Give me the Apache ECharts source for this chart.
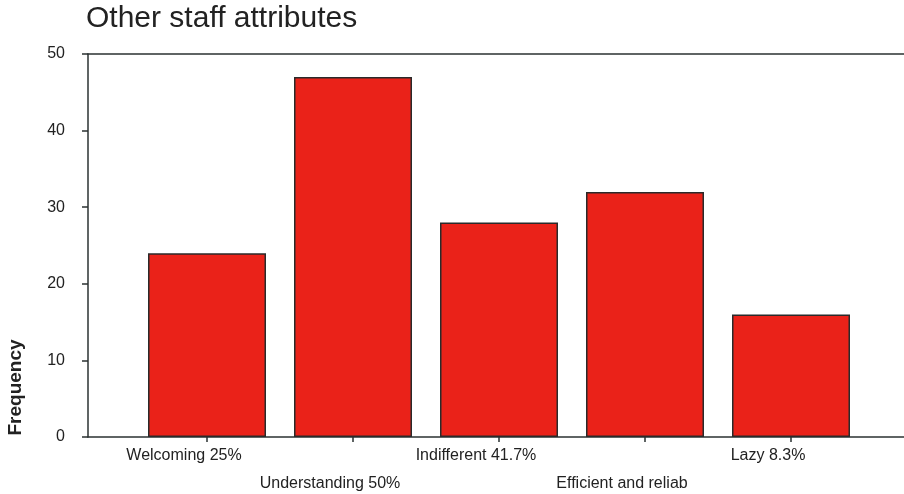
<!DOCTYPE html>
<html>
<head>
<meta charset="utf-8">
<script src="https://cdn.jsdelivr.net/npm/echarts@6/dist/echarts.min.js"></script>
<style>html,body{margin:0;padding:0;background:#fff}#c{width:904px;height:494px}</style>
</head>
<body>
<div id="c"></div>
<script>
const categories = ['Welcoming 25%', 'Understanding 50%', 'Indifferent 41.7%', 'Efficient and reliab', 'Lazy 8.3%'];
const frequency = [24, 47, 28, 32, 16];
const yTicks = [0, 10, 20, 30, 40, 50];

const chart = echarts.init(document.getElementById('c'));
const lineColor = '#2b3232';
const textColor = '#222';
const frameLine = { show: true, onZero: false, lineStyle: { color: lineColor, width: 1.5 } };
chart.setOption({
  animation: false,
  backgroundColor: '#fff',
  title: {
    text: 'Other staff attributes',
    left: 86, top: 4, padding: 0,
    textStyle: { fontFamily: 'Liberation Sans', fontSize: 30, fontWeight: 'normal', color: textColor }
  },
  grid: [
    { left: 134, right: 40, top: 54, bottom: 57, containLabel: false, outerBoundsMode: 'none' },
    { left: 88, right: 0, top: 54, bottom: 57, containLabel: false, outerBoundsMode: 'none' }
  ],
  xAxis: [{
    type: 'category', gridIndex: 0,
    data: categories,
    boundaryGap: true,
    axisLine: { show: false },
    axisTick: { show: true, alignWithLabel: true, length: 5, interval: 0, lineStyle: { color: lineColor, width: 1.5 } },
    axisLabel: {
      interval: 0,
      margin: 5,
      fontFamily: 'Liberation Sans', fontSize: 16, color: textColor,
      lineHeight: 28,
      padding: [0, 46, 0, 0],
      formatter: (v, i) => (i % 2 ? '\n' : '') + v
    }
  }, {
    type: 'value', gridIndex: 1, position: 'bottom', min: 0, max: 1,
    splitLine: { show: false }, axisLine: frameLine, axisTick: { show: false }, axisLabel: { show: false }
  }, {
    type: 'value', gridIndex: 1, position: 'top', min: 0, max: 1,
    splitLine: { show: false }, axisLine: frameLine, axisTick: { show: false }, axisLabel: { show: false }
  }],
  yAxis: [{
    type: 'value', gridIndex: 0, min: 0, max: 50, interval: 10, show: false
  }, {
    type: 'value', gridIndex: 1, min: 0, max: 50, interval: 10,
    splitLine: { show: false },
    axisLine: frameLine,
    axisTick: { show: true, length: 6, lineStyle: { color: lineColor, width: 1.5 } },
    axisLabel: { margin: 23, fontFamily: 'Liberation Sans', fontSize: 16, color: textColor,
      formatter: v => yTicks.includes(v) ? String(v) : '' }
  }],
  graphic: [{
    type: 'text',
    x: 15.5, y: 387.5, rotation: Math.PI / 2,
    style: { text: 'Frequency', fontFamily: 'Liberation Sans', fontSize: 19, fontWeight: 'bold',
      fill: textColor, align: 'center', verticalAlign: 'middle' }
  }],
  series: [{
    type: 'bar',
    xAxisIndex: 0, yAxisIndex: 0,
    barWidth: 118,
    data: frequency,
    itemStyle: { color: '#ea2219', borderColor: '#2a2a2a', borderWidth: 1.5 }
  }]
});
</script>
</body>
</html>
